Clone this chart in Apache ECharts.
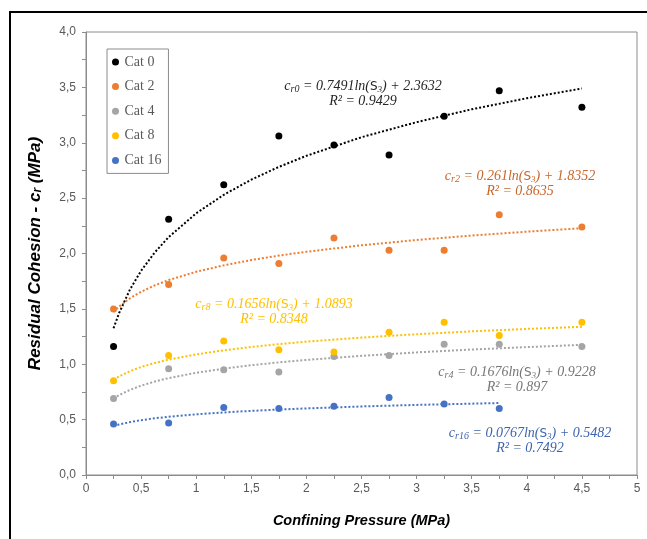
<!DOCTYPE html>
<html>
<head>
<meta charset="utf-8">
<script src="https://cdn.jsdelivr.net/npm/echarts@6/dist/echarts.min.js"></script>
<style>
  html, body { margin: 0; padding: 0; background: #fff; }
  #chart { width: 647px; height: 539px; }
</style>
</head>
<body>
<div id="chart"></div>
<script>
// measured points (confining pressure in MPa)
const pressure = [0.25, 0.75, 1.25, 1.75, 2.25, 2.75, 3.25, 3.75, 4.5]
const cat0 = [1.16, 2.31, 2.62, 3.06, 2.98, 2.89, 3.24, 3.47, 3.32]
const cat2 = [1.50, 1.72, 1.96, 1.91, 2.14, 2.03, 2.03, 2.35, 2.24]
const cat4 = [0.69, 0.96, 0.95, 0.93, 1.07, 1.08, 1.18, 1.18, 1.16]
const cat8 = [0.85, 1.08, 1.21, 1.13, 1.11, 1.29, 1.38, 1.26, 1.38]
const cat16 = [0.46, 0.47, 0.61, 0.60, 0.62, 0.70, 0.64, 0.60]

// log trendlines
const trendX = [0.25, 0.3, 0.4, 0.5, 0.625, 0.75, 1, 1.25, 1.5, 1.75, 2, 2.5, 3, 3.5, 4, 4.5]
const trend0 = [1.325, 1.461, 1.677, 1.844, 2.011, 2.148, 2.363, 2.530, 2.667, 2.782, 2.882, 3.050, 3.186, 3.302, 3.402, 3.490]
const trend2 = [1.473, 1.521, 1.596, 1.654, 1.713, 1.760, 1.835, 1.893, 1.941, 1.981, 2.016, 2.074, 2.122, 2.162, 2.197, 2.228]
const trend4 = [0.690, 0.721, 0.769, 0.807, 0.844, 0.875, 0.923, 0.960, 0.991, 1.017, 1.039, 1.076, 1.107, 1.133, 1.155, 1.175]
const trend8 = [0.860, 0.890, 0.938, 0.975, 1.012, 1.042, 1.089, 1.126, 1.156, 1.182, 1.204, 1.241, 1.271, 1.297, 1.319, 1.338]
const trend16X = [0.25, 0.3, 0.4, 0.5, 0.625, 0.75, 1, 1.25, 1.5, 1.75, 2, 2.5, 3, 3.5, 3.75]
const trend16 = [0.442, 0.456, 0.478, 0.495, 0.512, 0.526, 0.548, 0.565, 0.579, 0.591, 0.601, 0.619, 0.633, 0.644, 0.650]

const names = ['Cat 0', 'Cat 2', 'Cat 4', 'Cat 8', 'Cat 16']
const colors = ['#000000', '#ED7D31', '#A5A5A5', '#FFC000', '#4472C4']

// equation labels: subscript, coefficient, constant, R2
const eqSub = ['r0', 'r2', 'r4', 'r8', 'r16']
const eqA = ['0.7491', '0.261', '0.1676', '0.1656', '0.0767']
const eqB = ['2.3632', '1.8352', '0.9228', '1.0893', '0.5482']
const eqR2 = ['0.9429', '0.8635', '0.897', '0.8348', '0.7492']
const eqColors = ['#262626', '#C8662A', '#767676', '#FFC000', '#3E64AE']
const eqPos = [[363, 79], [520, 169], [517, 365], [274, 297], [530, 426]]

function pairs (xs, ys) {
  return ys.map((y, i) => [xs[i], y])
}

function comma (v) {
  return String(v).replace('.', ',')
}

const pointSets = [cat0, cat2, cat4, cat8, cat16]
const trendSets = [
  pairs(trendX, trend0),
  pairs(trendX, trend2),
  pairs(trendX, trend4),
  pairs(trendX, trend8),
  pairs(trend16X, trend16)
]

const series = []
pointSets.forEach((ys, i) => {
  series.push({
    name: names[i],
    type: 'scatter',
    symbolSize: 7,
    z: 5,
    itemStyle: { color: colors[i], opacity: 1 },
    data: pairs(pressure, ys)
  })
})
trendSets.forEach((d, i) => {
  series.push({
    name: names[i] + ' trend',
    type: 'line',
    smooth: false,
    showSymbol: false,
    silent: true,
    z: 3,
    lineStyle: { color: colors[i], width: 2, type: [2, 2] },
    data: d
  })
})

const eqRich = {
  sub: { fontSize: 10, fontStyle: 'italic', fontFamily: 'Liberation Serif', verticalAlign: 'bottom', lineHeight: 12 },
  s: { fontSize: 12, fontFamily: 'DejaVu Sans', fontStyle: 'normal' },
  sub3: { fontSize: 9, fontStyle: 'italic', fontFamily: 'Liberation Serif', verticalAlign: 'bottom', lineHeight: 11 }
}

const equations = eqSub.map((sub, i) => ({
  type: 'text',
  x: eqPos[i][0],
  y: eqPos[i][1],
  style: {
    text: 'c{sub|' + sub + '} = ' + eqA[i] + 'ln({s|S}{sub3|3}) + ' + eqB[i] + '\nR² = ' + eqR2[i],
    rich: eqRich,
    fill: eqColors[i],
    fontSize: 14,
    fontStyle: 'italic',
    fontFamily: 'Liberation Serif',
    lineHeight: 15,
    align: 'center',
    verticalAlign: 'top'
  }
}))

const axisColor = '#8C8C8C'

const option = {
  animation: false,
  backgroundColor: '#fff',
  grid: { left: 86, top: 32, right: 10, bottom: 64, show: true, borderColor: axisColor, borderWidth: 1 },
  legend: {
    data: names,
    orient: 'vertical',
    left: 107,
    top: 49,
    padding: [6, 7, 6, 5],
    itemGap: 10.6,
    itemWidth: 8,
    itemHeight: 7,
    icon: 'circle',
    borderColor: '#8C8C8C',
    borderWidth: 1,
    textStyle: { fontFamily: 'Liberation Serif', fontSize: 14, color: '#595959', lineHeight: 14 }
  },
  xAxis: {
    type: 'value',
    min: 0,
    max: 5,
    interval: 0.5,
    name: 'Confining Pressure (MPa)',
    nameLocation: 'middle',
    nameGap: 38,
    nameTextStyle: { fontFamily: 'Liberation Sans', fontSize: 14.5, fontWeight: 'bold', fontStyle: 'italic', color: '#000' },
    axisLine: { show: true, lineStyle: { color: axisColor } },
    axisTick: { show: true, length: 4, lineStyle: { color: axisColor } },
    minorTick: { show: true, splitNumber: 2, length: 4, lineStyle: { color: axisColor } },
    splitLine: { show: false },
    axisLabel: { fontFamily: 'Liberation Sans', fontSize: 12, color: '#595959', margin: 8, formatter: comma }
  },
  yAxis: {
    type: 'value',
    min: 0,
    max: 4,
    interval: 0.5,
    name: 'Residual Cohesion - c{sub|r} (MPa)',
    nameLocation: 'middle',
    nameRotate: 90,
    nameGap: 42,
    nameTextStyle: {
      fontFamily: 'Liberation Sans', fontSize: 17, fontWeight: 'bold', fontStyle: 'italic', color: '#000',
      rich: { sub: { fontFamily: 'Liberation Sans', fontSize: 12, fontWeight: 'bold', fontStyle: 'italic', color: '#000', verticalAlign: 'bottom', lineHeight: 14 } }
    },
    axisLine: { show: true, lineStyle: { color: axisColor } },
    axisTick: { show: true, length: 4, lineStyle: { color: axisColor } },
    minorTick: { show: true, splitNumber: 2, length: 4, lineStyle: { color: axisColor } },
    splitLine: { show: false },
    axisLabel: { fontFamily: 'Liberation Sans', fontSize: 12, color: '#595959', margin: 10, formatter: v => v.toFixed(1).replace('.', ',') }
  },
  graphic: [
    {
      type: 'rect',
      shape: { x: 10, y: 12, width: 700, height: 600 },
      style: { fill: 'none', stroke: '#000', lineWidth: 2 },
      silent: true
    }
  ].concat(equations),
  series: series
}

const chart = echarts.init(document.getElementById('chart'))
chart.setOption(option)
</script>
</body>
</html>
